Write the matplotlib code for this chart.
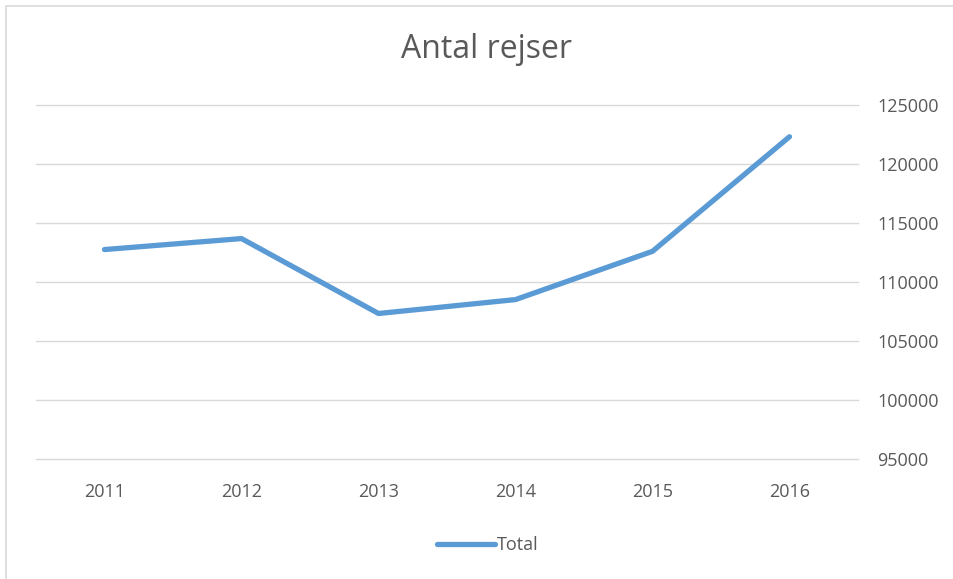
import matplotlib
matplotlib.use("Agg")
import matplotlib.pyplot as plt
from matplotlib.patches import Rectangle

years = ["2011", "2012", "2013", "2014", "2015", "2016"]
total = [112750, 113680, 107330, 108510, 112600, 122310]
yticks = [95000, 100000, 105000, 110000, 115000, 120000, 125000]

plt.rcParams['font.family'] = ['Open Sans', 'DejaVu Sans']

W, H = 954, 579
fig = plt.figure(figsize=(W/100, H/100), dpi=100)
fig.patches.append(Rectangle((6/W, -0.1), 1.2, 1 - 6/H + 0.1, transform=fig.transFigure,
                             fill=False, edgecolor='#d9d9d9', linewidth=1.2))

ax = fig.add_axes([36/W, 1-459/H, (858-36)/W, (459-105)/H])
x = list(range(len(years)))
line, = ax.plot(x, total, color='#5B9BD5', linewidth=3.8, solid_capstyle='round',
                solid_joinstyle='round', label='Total')
ax.set_xlim(-0.5, len(years)-0.5)
ax.set_ylim(yticks[0], yticks[-1])
ax.set_xticks(x)
ax.set_xticklabels(years)
ax.set_yticks(yticks)
ax.set_yticklabels([str(v) for v in yticks])
ax.yaxis.tick_right()
ax.tick_params(axis='both', length=0, labelsize=13, colors='#595959')
ax.tick_params(axis='y', pad=14)
ax.tick_params(axis='x', pad=17)
ax.grid(axis='y', color='#d9d9d9', linewidth=1)
for gl in ax.yaxis.get_gridlines():
    gl.set_clip_on(False)
ax.set_axisbelow(True)
for s in ax.spines.values():
    s.set_visible(False)

fig.text(487/W, 1-50/H, "Antal rejser", ha='center', va='center', fontsize=23, color='#595959')

leg = fig.legend(handles=[line], loc='center', bbox_to_anchor=(488/W, 1-545/H),
                 frameon=False, fontsize=13, handlelength=3.2, handletextpad=0.1)
for t in leg.get_texts():
    t.set_color('#595959')

fig.savefig("out.png", dpi=100)
